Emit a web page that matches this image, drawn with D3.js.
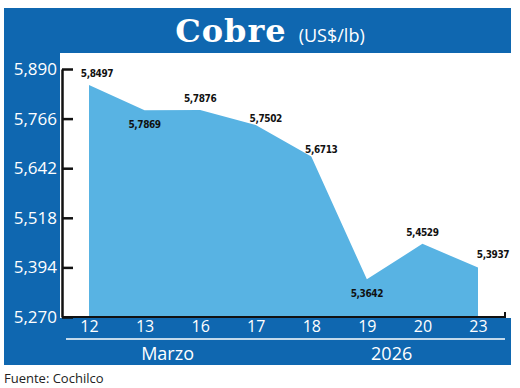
<!DOCTYPE html>
<html>
<head>
<meta charset="utf-8">
<script src="https://cdn.jsdelivr.net/npm/d3@7"></script>
<style>
  body { margin: 0; background: #fff; }
  svg { display: block; }
</style>
</head>
<body>
<svg id="chart" width="520" height="388"></svg>
<script>
'use strict';

// data
var days = ['12', '13', '16', '17', '18', '19', '20', '23'];
var values = [5.8497, 5.7869, 5.7876, 5.7502, 5.6713, 5.3642, 5.4529, 5.3937];
var valueLabels = ['5,8497', '5,7869', '5,7876', '5,7502', '5,6713', '5,3642', '5,4529', '5,3937'];
var yTicks = [5.270, 5.394, 5.518, 5.642, 5.766, 5.890];
var yTickLabels = ['5,270', '5,394', '5,518', '5,642', '5,766', '5,890'];
var groups = ['Marzo', '2026'];

// where each value label sits relative to its point
var labelPlace = ['above', 'below', 'above', 'aboveRight', 'aboveRight', 'below', 'above', 'right'];

var darkBlue = '#0f67b0',
    lightBlue = '#58b3e3';

var svg = d3.select('#chart');

// frame
svg.append('rect')
    .attr('x', 4).attr('y', 8)
    .attr('width', 507).attr('height', 357)
    .attr('fill', darkBlue);

svg.append('rect')
    .attr('x', 60).attr('y', 53)
    .attr('width', 451).attr('height', 265)
    .attr('fill', '#fff');

// title
var title = svg.append('text')
    .attr('x', 270).attr('y', 42)
    .attr('text-anchor', 'middle')
    .attr('fill', '#fff');
title.append('tspan')
    .attr('font-family', 'DejaVu Serif')
    .attr('font-weight', 'bold')
    .attr('font-size', 32)
    .attr('letter-spacing', 1)
    .text('Cobre');
title.append('tspan')
    .attr('dx', 12)
    .attr('font-family', 'Open Sans')
    .attr('font-size', 18)
    .text('(US$/lb)');

// scales
var x = d3.scalePoint()
    .domain(days)
    .range([89, 478]);

var y = d3.scaleLinear()
    .domain([yTicks[0], yTicks[yTicks.length - 1]])
    .range([317, 69]);

// area
var area = d3.area()
    .x(function(d, i) { return x(days[i]); })
    .y0(y(yTicks[0]))
    .y1(function(d) { return y(d); });

svg.append('path')
    .datum(values)
    .attr('d', area)
    .attr('fill', lightBlue);

// y axis
var yAxis = svg.append('g')
    .attr('transform', 'translate(62,0)')
    .call(d3.axisLeft(y)
        .tickValues(yTicks)
        .tickFormat(function(d, i) { return yTickLabels[i]; })
        .tickSizeInner(-11)
        .tickSizeOuter(0)
        .tickPadding(5));

yAxis.select('.domain').attr('stroke', '#111').attr('stroke-width', 2.5);
yAxis.selectAll('.tick line').attr('stroke', '#111').attr('stroke-width', 2.5);
yAxis.selectAll('.tick text')
    .attr('fill', '#fff')
    .attr('font-family', 'Open Sans')
    .attr('font-size', 17);

// x axis
var xAxis = svg.append('g')
    .attr('transform', 'translate(0,' + y(yTicks[0]) + ')')
    .call(d3.axisBottom(x)
        .tickSize(0)
        .tickPadding(4));

xAxis.select('.domain')
    .attr('d', 'M62,0H505V-5')
    .attr('stroke', '#111')
    .attr('stroke-width', 2);
xAxis.selectAll('.tick text')
    .attr('fill', '#fff')
    .attr('font-family', 'Open Sans')
    .attr('font-size', 16);

// group line and labels
svg.append('line')
    .attr('x1', 66).attr('x2', 505)
    .attr('y1', 339).attr('y2', 339)
    .attr('stroke', '#fff')
    .attr('stroke-width', 1.5);

svg.selectAll('.group')
    .data(groups)
    .enter().append('text')
    .attr('class', 'group')
    .attr('x', function(d, i) {
        return i === 0 ? (x(days[0]) + x(days[2])) / 2 + 23 : (x(days[4]) + x(days[7])) / 2 - 3;
    })
    .attr('y', 360)
    .attr('text-anchor', 'middle')
    .attr('fill', '#fff')
    .attr('font-family', 'Open Sans')
    .attr('font-size', 18)
    .text(function(d) { return d; });

// value labels
svg.selectAll('.val')
    .data(values)
    .enter().append('text')
    .attr('class', 'val')
    .attr('x', function(d, i) {
        var p = labelPlace[i];
        var dx = p === 'aboveRight' ? 10 : (p === 'right' ? 15 : 0);
        if (i === 0) dx = 8;
        return x(days[i]) + dx;
    })
    .attr('y', function(d, i) {
        var p = labelPlace[i];
        var dy = p === 'below' ? 18 : (p === 'right' ? -10 : -8);
        if (p === 'aboveRight') dy = -3;
        return y(d) + dy;
    })
    .attr('text-anchor', 'middle')
    .attr('fill', '#111')
    .attr('font-family', 'DejaVu Sans Condensed, DejaVu Sans')
    .attr('font-stretch', 'condensed')
    .attr('font-weight', 'bold')
    .attr('font-size', 10)
    .attr('letter-spacing', -0.4)
    .text(function(d, i) { return valueLabels[i]; });

// source
svg.append('text')
    .attr('x', 4).attr('y', 383)
    .attr('fill', '#222')
    .attr('font-family', 'Open Sans')
    .attr('font-size', 13)
    .text('Fuente: Cochilco');
</script>
</body>
</html>
